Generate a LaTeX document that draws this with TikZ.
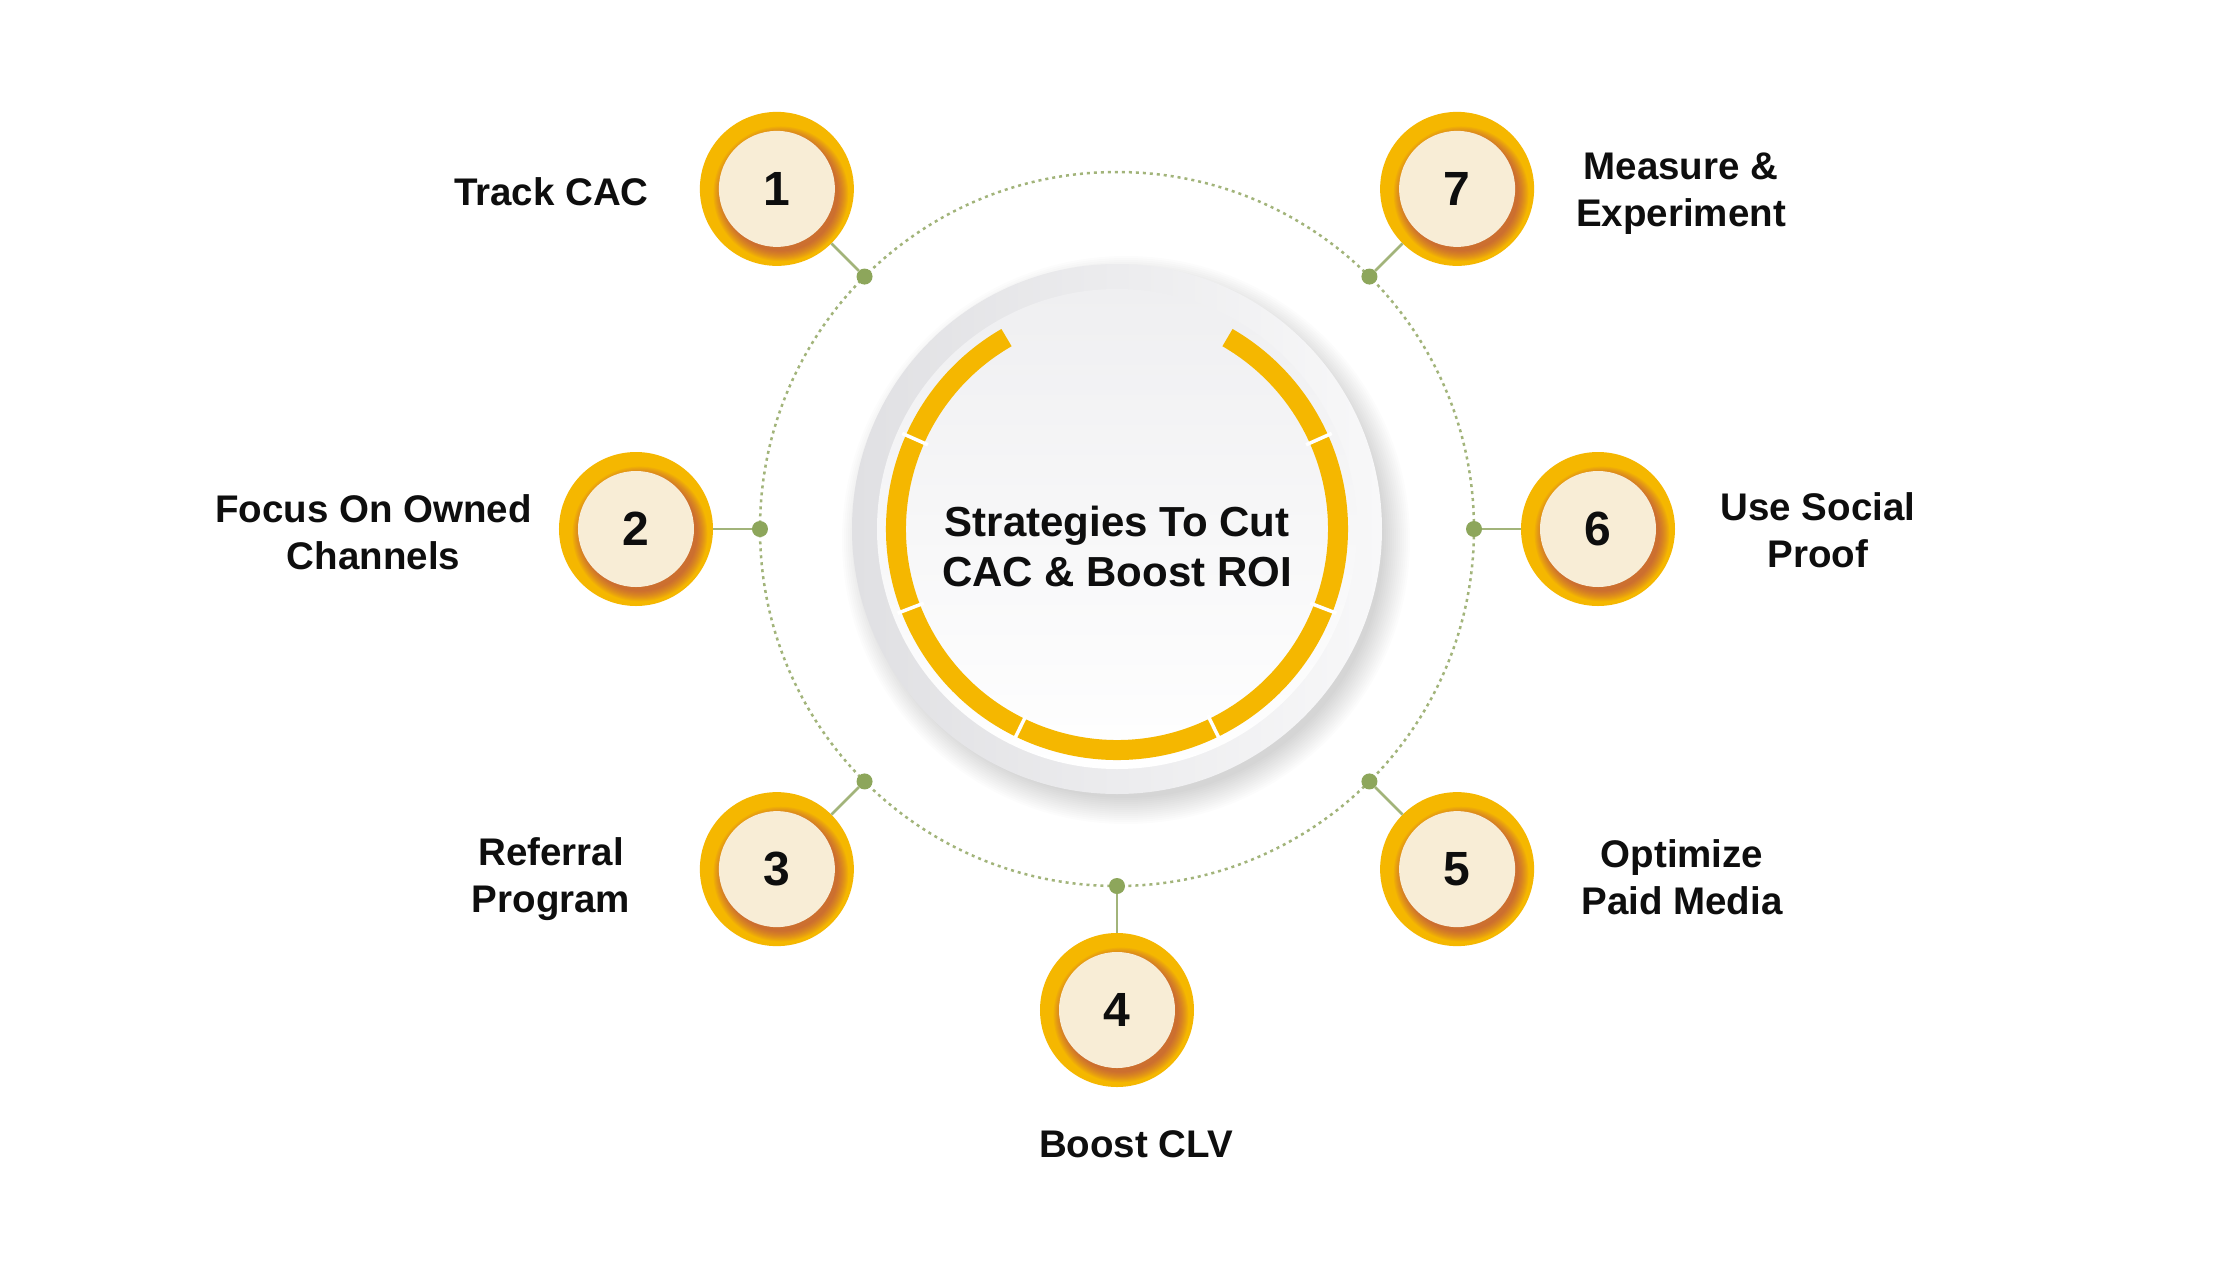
\documentclass[tikz,border=0pt]{standalone}
\usepackage{fontspec}
\setmainfont{Liberation Sans}
\usetikzlibrary{calc}
\definecolor{gold}{HTML}{F5B700}
\definecolor{cream}{HTML}{F8EDD6}
\definecolor{shadowc}{HTML}{B0385E}
\definecolor{olive}{HTML}{8DA65B}
\definecolor{oliveline}{HTML}{A2B47A}
\definecolor{discL}{HTML}{E0E0E3}
\definecolor{discR}{HTML}{F8F8F9}
\definecolor{innerT}{HTML}{EFEFF1}
\definecolor{innerB}{HTML}{FFFFFF}
\definecolor{ink}{HTML}{0E0E0E}
\tikzset{
  lab/.style={font=\bfseries\fontsize{38.5}{47}\selectfont, align=center, anchor=base, inner sep=0pt, text=ink},
  titletext/.style={font=\bfseries\fontsize{42}{50}\selectfont, align=center, anchor=base, inner sep=0pt, text=ink},
  outerdisc/.style={circle, fill=gold, minimum size=154pt, inner sep=0pt},
  creamdisc/.style={circle, fill=cream, minimum size=116pt, inner sep=0pt, text=ink, font=\bfseries\fontsize{48}{48}\selectfont},
  dotnode/.style={circle, fill=olive, minimum size=16pt, inner sep=0pt},
  dotring/.style={oliveline, line width=2.5pt, dash pattern=on 3pt off 4pt},
  connector/.style={oliveline, line width=2.5pt},
}
\begin{document}
\begin{tikzpicture}[x=1pt,y=1pt]
\useasboundingbox (-1117,-733) rectangle (1123,529);
\fill[white] (-1117,-733) rectangle (1123,529);

% dotted guide circle
\draw[dotring] (0,0) circle[radius=357];

% soft shadow of central disc
\foreach \i in {0,...,13} {
  \fill[black, opacity=0.011] (9,-11) circle[radius=258+\i*2];
}
% central disc
\shade[left color=discL, right color=discR] (0,0) circle[radius=265];
\shade[top color=innerT, bottom color=innerB] (0,0) circle[radius=240];

% segmented ring
\draw[gold, line width=20pt] (120:221) arc[start angle=120, end angle=420, radius=221];
\foreach \a in {156,201,244,296,339,24} {
  \draw[white, line width=3.5pt] (\a:207) -- (\a:235);
}

\node[titletext] (title) at (0,-57) {Strategies To Cut\\CAC \& Boost ROI};

% items
\foreach \a/\n in {135/1,180/2,225/3,270/4,315/5,0/6,45/7} {
  \node[outerdisc] (o\n) at (\a:481) {};
  \foreach \i in {0,...,9} {
    \fill[shadowc, opacity=0.075] ($(o\n)+(4,-5)$) circle[radius=57.5+\i*1.1];
  }
  \node[creamdisc] (c\n) at (\a:481) {\n};
  \node[dotnode] (d\n) at (\a:357) {};
  \draw[connector] (d\n) -- (o\n);
}

\node[lab] (lab1) at (-565.5,324) {Track CAC};
\node[lab] (lab2) at (-743.5,-40) {Focus On Owned\\Channels};
\node[lab] (lab3) at (-566,-383) {Referral\\Program};
\node[lab] (lab4) at (19,-628) {Boost CLV};
\node[lab] (lab5) at (565,-385) {Optimize\\Paid Media};
\node[lab] (lab6) at (701,-38) {Use Social\\Proof};
\node[lab] (lab7) at (564,303) {Measure \&\\Experiment};
\end{tikzpicture}
\end{document}
